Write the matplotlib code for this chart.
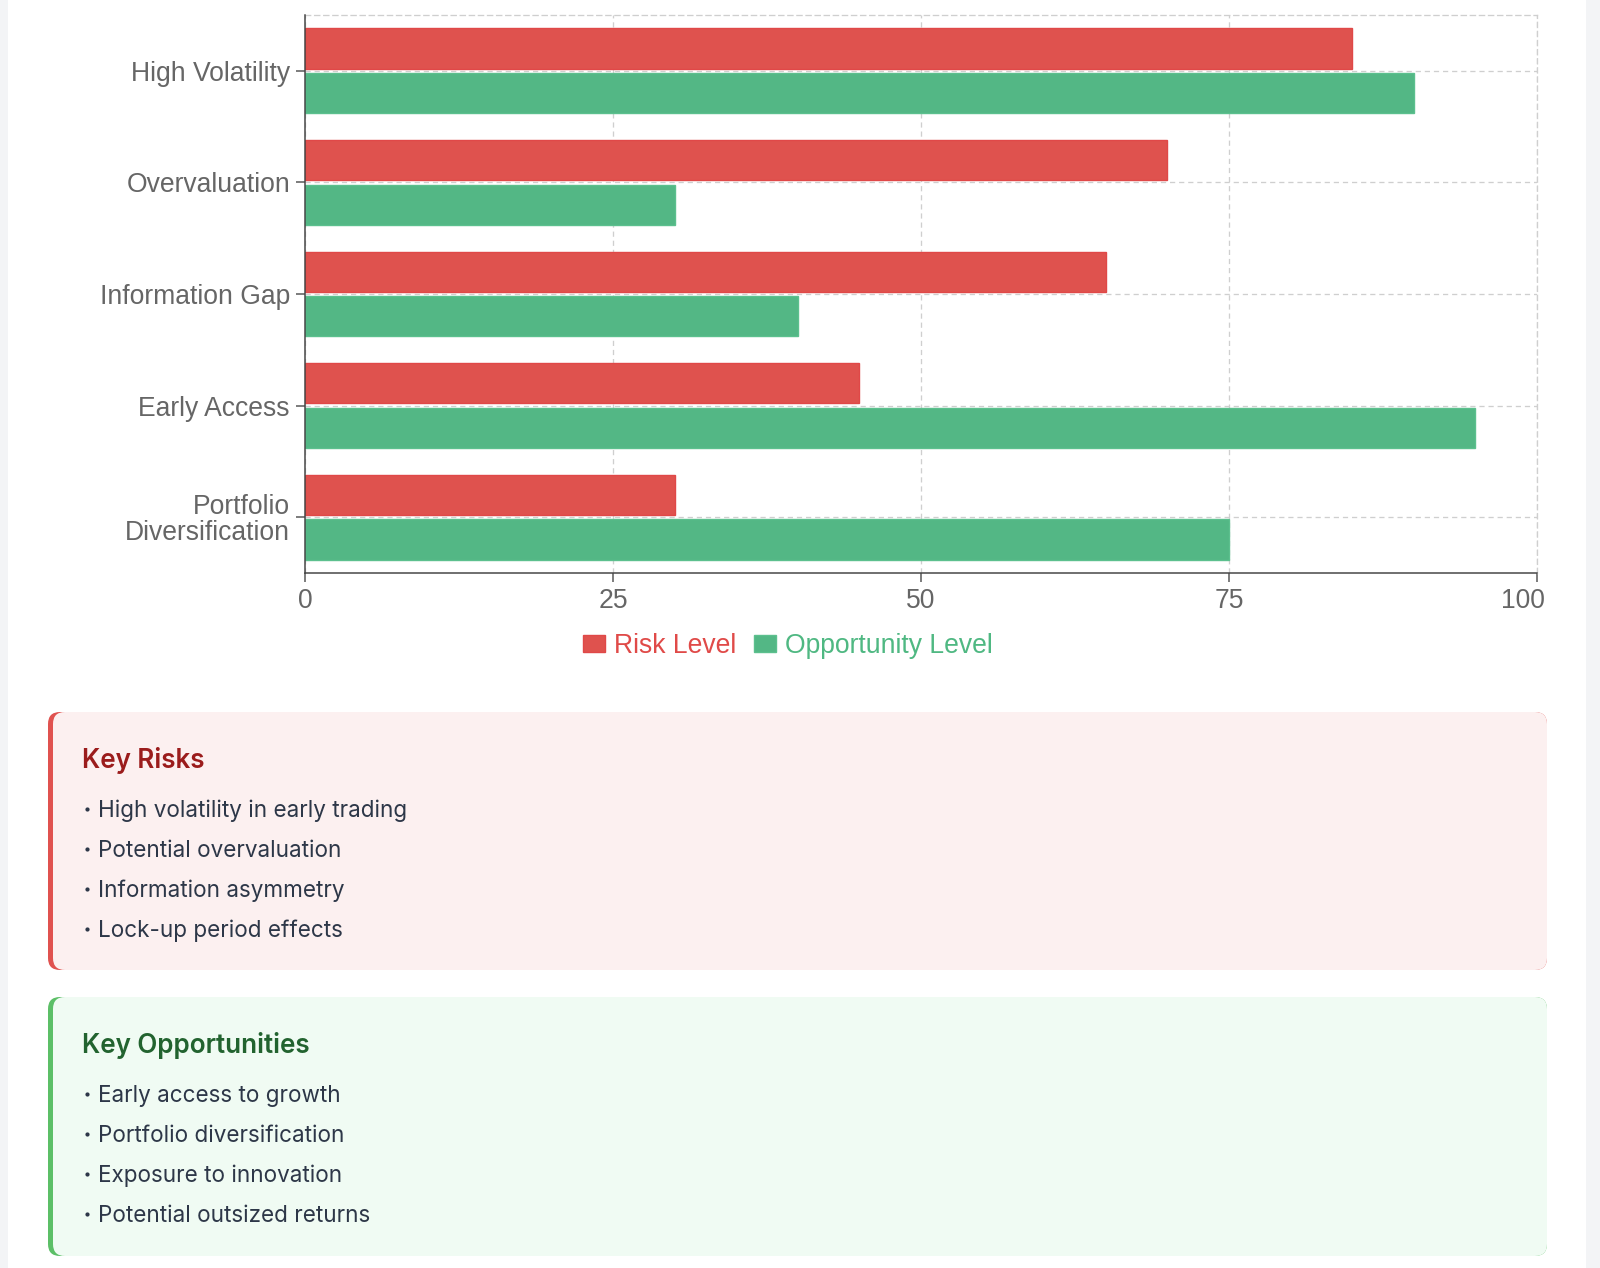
import matplotlib
matplotlib.use("Agg")
import matplotlib.pyplot as plt
from matplotlib.patches import FancyBboxPatch, Rectangle, Patch
from matplotlib.ticker import FixedLocator, FuncFormatter
import numpy as np

categories = ["High Volatility", "Overvaluation", "Information Gap", "Early Access", "Portfolio\nDiversification"]
risk_level = [85, 70, 65, 45, 30]
opportunity_level = [90, 30, 40, 95, 75]
series_names = ["Risk Level", "Opportunity Level"]
x_ticks = [0, 25, 50, 75, 100]

risk_title = "Key Risks"
risk_items = ["High volatility in early trading", "Potential overvaluation",
              "Information asymmetry", "Lock-up period effects"]
opp_title = "Key Opportunities"
opp_items = ["Early access to growth", "Portfolio diversification",
             "Exposure to innovation", "Potential outsized returns"]

RED = "#df524e"
GREEN = "#53b785"
W, H = 1600, 1268
DPI = 100
PX = 72 / DPI  # px -> pt

fig = plt.figure(figsize=(W / DPI, H / DPI), dpi=DPI)
fig.patch.set_facecolor("white")

# background layer in pixel coordinates
bg = fig.add_axes([0, 0, 1, 1], zorder=0)
bg.set_xlim(0, W)
bg.set_ylim(H, 0)
bg.axis("off")
bg.add_patch(Rectangle((0, 0), 8, H, color="#f3f4f6", lw=0))
bg.add_patch(Rectangle((1586, 0), W - 1586, H, color="#f3f4f6", lw=0))


def card(y0, y1, border, fill, title, title_color, items, title_base, item_base):
    x0, x1 = 48, 1547
    r = 12
    bg.add_patch(FancyBboxPatch((x0 + r, y0 + r), x1 - x0 - 2 * r, y1 - y0 - 2 * r,
                                boxstyle=f"round,pad={r}", fc=border, ec="none", lw=0))
    bg.add_patch(FancyBboxPatch((x0 + 5 + r, y0 + r), x1 - x0 - 5 - 2 * r, y1 - y0 - 2 * r,
                                boxstyle=f"round,pad={r}", fc=fill, ec="none", lw=0))
    bg.text(82, title_base, title, color=title_color, fontsize=26 * PX,
            fontweight="semibold", family=["Inter", "DejaVu Sans"], va="baseline", ha="left")
    for i, it in enumerate(items):
        yb = item_base + 40 * i
        bg.plot([86.5], [yb - 8.5], marker="o", ms=4.2 * PX, mfc="#2d3748", mec="none", ls="none")
        bg.text(98, yb, it, color="#2d3748", fontsize=22.5 * PX,
                family=["Inter", "DejaVu Sans"], va="baseline", ha="left")


card(712, 970, "#e0524f", "#fcf0f0", risk_title, "#9b1c1c", risk_items, 768, 817)
card(997, 1256, "#5cbf67", "#f0fbf3", opp_title, "#22632f", opp_items, 1053, 1102)

# chart axes
left, right, top, bottom = 305, 1537, 15, 573
ax = fig.add_axes([left / W, 1 - bottom / H, (right - left) / W, (bottom - top) / H], zorder=2)
ax.set_facecolor("none")

y = np.arange(len(categories))
h = 0.36
ax.barh(y - 0.2, risk_level, height=h, color=RED, edgecolor="#e04848", linewidth=1.0, zorder=3)
ax.barh(y + 0.2, opportunity_level, height=h, color=GREEN, edgecolor="#5cc08e", linewidth=1.0, zorder=3)

ax.set_xlim(0, 100)
ax.set_ylim(len(categories) - 0.5, -0.5)
ax.xaxis.set_major_locator(FixedLocator(x_ticks))
# all x labels except the last are drawn by the axis; the last one is kept inside the plot
ax.xaxis.set_major_formatter(FuncFormatter(lambda v, p: "" if v == x_ticks[-1] else f"{v:g}"))
ax.set_yticks(y)
ax.set_yticklabels(categories, linespacing=1.0)

tick_font = ["Liberation Sans", "DejaVu Sans"]
FS = 26.5 * PX
ax.tick_params(axis="both", labelsize=FS, labelcolor="#666666")
for lab in ax.get_yticklabels():
    lab.set_family(tick_font)
plt.setp(ax.xaxis.get_majorticklabels(), family=tick_font)
for t in ax.xaxis.get_major_ticks():
    t.label1.set_family(tick_font)

ax.annotate(f"{x_ticks[-1]:g}", xy=(x_ticks[-1], 0), xycoords=("data", "axes fraction"),
            xytext=(-14, -15), textcoords="offset pixels", ha="center", va="top",
            fontsize=FS, color="#666666", family=tick_font, annotation_clip=False)

ax.tick_params(axis="y", length=9 * PX, width=1.5 * PX, color="#555555", pad=6 * PX)
ax.tick_params(axis="x", length=9 * PX, width=1.5 * PX, color="#555555", pad=6 * PX)

ax.grid(True, color="#cfcfcf", linestyle=(0, (4, 3)), linewidth=1.3 * PX, zorder=0)
for s in ["left", "bottom"]:
    ax.spines[s].set_color("#444444")
    ax.spines[s].set_linewidth(1.5 * PX)
    ax.spines[s].set_zorder(4)
for s in ["top", "right"]:
    ax.spines[s].set_color("#cfcfcf")
    ax.spines[s].set_linestyle((0, (4, 3)))
    ax.spines[s].set_linewidth(1.3 * PX)

handles = [Patch(facecolor=RED, edgecolor="#e04848"), Patch(facecolor=GREEN, edgecolor="#5cc08e")]
leg = fig.legend(handles, series_names, loc="center", bbox_to_anchor=(788 / W, 1 - 646 / H),
                 ncol=2, frameon=False, prop={"family": tick_font, "size": FS},
                 handlelength=0.83, handleheight=0.64, handletextpad=0.34,
                 columnspacing=0.68, borderaxespad=0, borderpad=0)
for t, c in zip(leg.get_texts(), ["#e04a48", "#4fb882"]):
    t.set_color(c)

fig.savefig("out.png", dpi=DPI)
